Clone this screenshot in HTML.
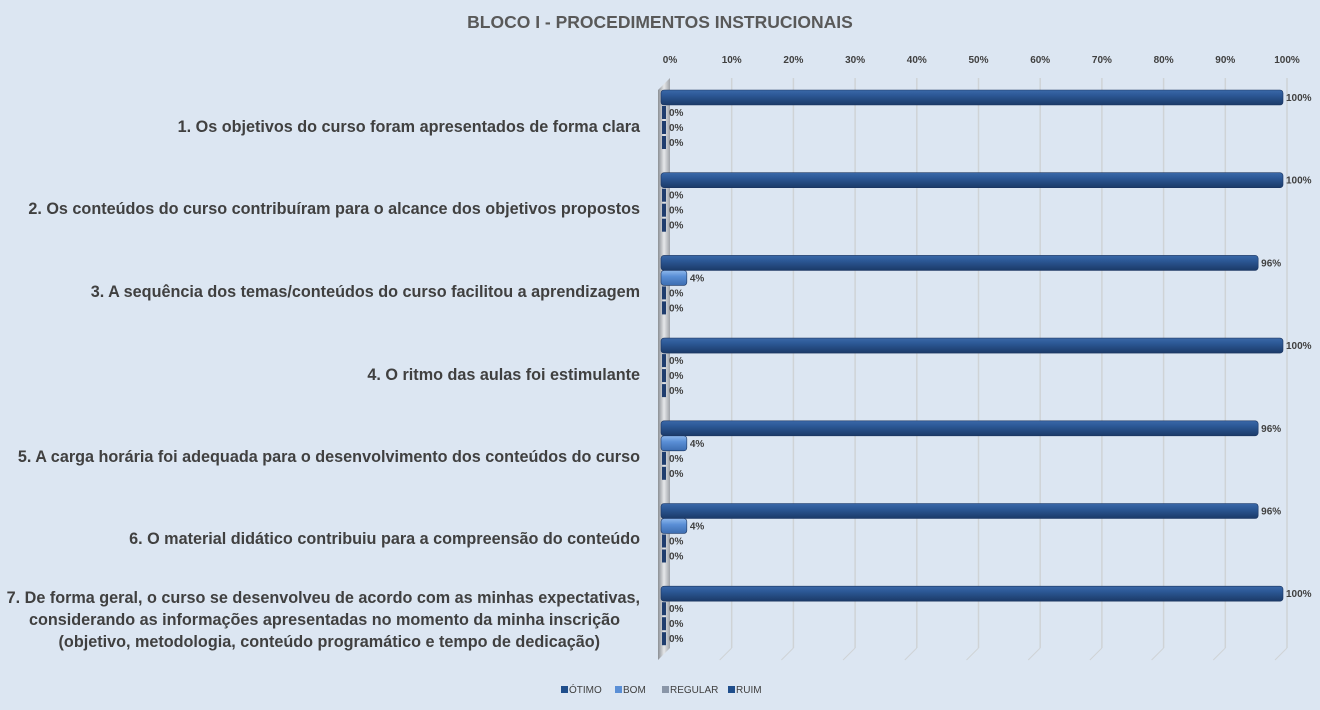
<!DOCTYPE html>
<html><head><meta charset="utf-8"><style>
body{margin:0;background:#dce6f2;}
svg{display:block;font-family:"Liberation Sans",sans-serif;}
</style></head><body>
<svg id="s" width="1320" height="710" xmlns="http://www.w3.org/2000/svg">
<defs>
<linearGradient id="g1" x1="0" y1="0" x2="0" y2="1"><stop offset="0" stop-color="#3a68a8"/><stop offset="0.35" stop-color="#2c5896"/><stop offset="1" stop-color="#1b3a68"/></linearGradient>
<linearGradient id="g2" x1="0" y1="0" x2="0" y2="1"><stop offset="0" stop-color="#8fb8ec"/><stop offset="0.4" stop-color="#5a8fd6"/><stop offset="1" stop-color="#3c6cb0"/></linearGradient>
<linearGradient id="gw" x1="0" y1="0" x2="1" y2="0"><stop offset="0" stop-color="#8a8e94"/><stop offset="0.5" stop-color="#e6e8ea"/><stop offset="1" stop-color="#9ea2a8"/></linearGradient>
</defs>
<rect width="1320" height="710" fill="#dce6f2"/>
<text x="660" y="28" text-anchor="middle" font-size="17.5" font-weight="bold" fill="#595959">BLOCO I - PROCEDIMENTOS  INSTRUCIONAIS</text>
<g id="grid"></g>
<polygon points="658,90 670,78 670,648 658,660" fill="url(#gw)"/>
<g id="bars"></g>
<g font-size="16.2" font-weight="bold" fill="#404040" text-anchor="end">
<text x="640" y="132">1. Os objetivos do curso foram apresentados de forma clara</text>
<text x="640" y="214">2. Os conteúdos do curso contribuíram para o alcance dos objetivos propostos</text>
<text x="640" y="297">3. A sequência dos temas/conteúdos do curso facilitou a aprendizagem</text>
<text x="640" y="380">4. O ritmo das aulas foi estimulante</text>
<text x="640" y="462">5. A carga horária foi adequada para o desenvolvimento dos conteúdos do curso</text>
<text x="640" y="544">6. O material didático contribuiu para a compreensão do conteúdo</text>
<text x="640" y="603">7. De forma geral, o curso se desenvolveu de acordo com as minhas expectativas,</text>
<text x="620" y="625">considerando as informações apresentadas no momento da minha inscrição</text>
<text x="600" y="647">(objetivo, metodologia, conteúdo programático e tempo de dedicação)</text>
</g>
<g font-size="10" fill="#404040">
<rect x="561" y="686" width="7" height="7" fill="#1f4e8c"/><text x="569" y="693">ÓTIMO</text>
<rect x="615" y="686" width="7" height="7" fill="#5a8fd6"/><text x="623" y="693">BOM</text>
<rect x="662" y="686" width="7" height="7" fill="#8a96a8"/><text x="670" y="693">REGULAR</text>
<rect x="728" y="686" width="7" height="7" fill="#1f4e8c"/><text x="736" y="693">RUIM</text>
</g>
</svg>
<script>
var NS="http://www.w3.org/2000/svg";
function el(p,t,a,txt){var e=document.createElementNS(NS,t);for(var k in a)e.setAttribute(k,a[k]);if(txt!=null)e.textContent=txt;p.appendChild(e);return e;}
var grid=document.getElementById('grid'),bars=document.getElementById('bars');
for(var i=0;i<=10;i++){var x=670+i*61.7;
 if(i>0)el(grid,'line',{x1:x,y1:78,x2:x,y2:648,stroke:'#cfd3d6','stroke-width':1.5});
 if(i>0)el(grid,'line',{x1:x,y1:648,x2:x-12,y2:660,stroke:'#cfd3d6','stroke-width':1});
 el(grid,'text',{x:x,y:63,'text-anchor':'middle','font-size':10,'font-weight':'bold',fill:'#404040'},(i*10)+'%');}
var data=[[100,0,0,0],[100,0,0,0],[96,4,0,0],[100,0,0,0],[96,4,0,0],[96,4,0,0],[100,0,0,0]];
data.forEach(function(d,g){var y0=90+g*82.7;
 d.forEach(function(v,j){var y=y0+j*15;var end=662+v*6.21;
  if(v>0){el(bars,'rect',{x:661,y:y,width:end-661,height:15,rx:3,fill:j==1?'url(#g2)':'url(#g1)',stroke:'#1b3560','stroke-width':0.6});}
  else{el(bars,'rect',{x:662,y:y+1,width:4,height:13,fill:'#1f3d6e'});}
  el(bars,'text',{x:(v>0?end+3:669),y:y+11,'font-size':10,'font-weight':'bold',fill:'#404040'},v+'%');});});
</script>
</body></html>
